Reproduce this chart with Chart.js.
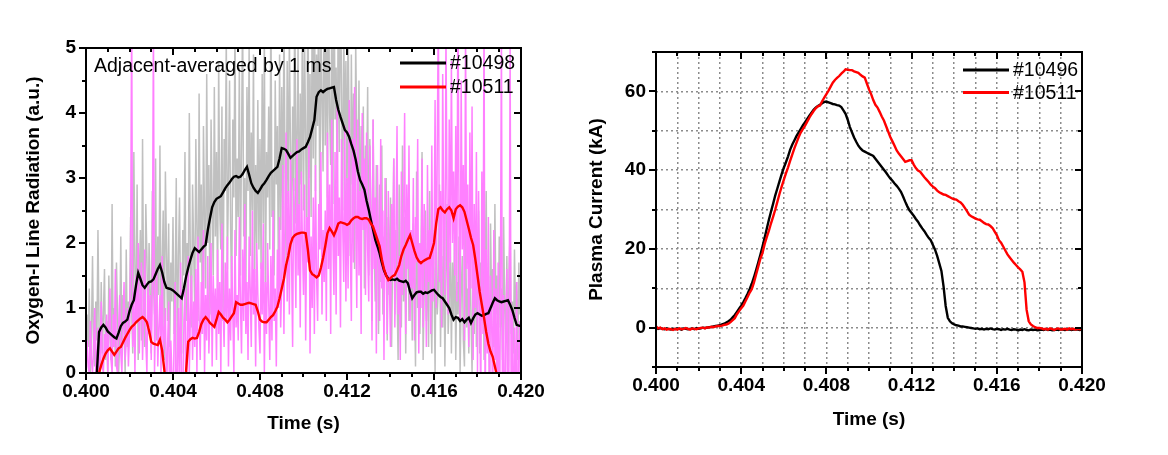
<!DOCTYPE html>
<html>
<head>
<meta charset="utf-8">
<script src="https://cdn.jsdelivr.net/npm/chart.js@4.4.0/dist/chart.umd.min.js"></script>
<style>
  html, body { margin: 0; padding: 0; background: #fff; }
  #wrap { position: relative; width: 1168px; height: 455px; }
  canvas { position: absolute; top: 0; }
  #oxygen { left: 0; }
  #current { left: 584px; }
</style>
</head>
<body>
<div id="wrap">
  <canvas id="oxygen" width="584" height="455"></canvas>
  <canvas id="current" width="584" height="455"></canvas>
</div>
<script>
// averaged / current curves: 0.400 s .. 0.420 s every 0.1 ms
const T0 = 0.400, DT = 0.0001, DT_RAW = 0.00005;
const times = Array.from({length: 201}, (_, i) => +(T0 + i * DT).toFixed(4));
// raw spectrometer samples every 0.05 ms
const rawTimes = Array.from({length: 401}, (_, i) => +(T0 + i * DT_RAW).toFixed(5));

// left panel: raw O-I signal (one row = 1 ms)
const raw10498 = [
  0.2, 0.9, 0.4, 1.3, 0.0, 0.6, 1.8, 0.3, 0.1, 1.1, 0.5, 2.2, 0.7, 0.0, 1.4, 0.3, 0.9, 1.6, 0.2, 0.8,
  0.0, 1.5, 0.6, 0.2, 2.6, 0.4, 1.0, 0.1, 1.7, 0.9, 0.0, 0.5, 2.1, 0.3, 1.2, 0.7, 0.0, 1.9, 0.4, 1.1,
  0.6, 2.4, 1.0, 0.3, 3.4, 1.6, 0.8, 2.9, 0.2, 1.5, 2.2, 0.5, 3.6, 1.1, 0.4, 2.6, 1.8, 0.6, 2.0, 1.2,
  0.3, 2.8, 1.4, 0.9, 3.3, 0.5, 2.1, 1.2, 3.5, 0.7, 1.6, 2.5, 0.2, 3.1, 1.9, 0.8, 2.3, 0.4, 1.7, 1.1,
  2.4, 0.6, 1.3, 3.0, 0.1, 1.8, 2.7, 0.9, 0.3, 2.2, 1.5, 3.4, 0.8, 2.0, 1.1, 4.0, 1.6, 0.7, 2.9, 1.9,
  1.0, 3.6, 2.2, 0.8, 4.3, 1.7, 2.9, 0.6, 3.8, 2.4, 1.3, 4.6, 2.0, 3.2, 0.9, 3.9, 2.6, 1.5, 4.4, 2.1,
  3.4, 1.2, 4.8, 2.5, 1.9, 4.1, 0.8, 3.6, 2.8, 5.2, 1.6, 3.0, 4.5, 2.2, 1.1, 3.9, 2.7, 5.4, 1.8, 3.3,
  2.4, 4.7, 1.5, 3.5, 5.6, 2.1, 3.0, 1.2, 4.4, 2.8, 5.0, 1.8, 3.7, 2.5, 4.9, 1.4, 3.2, 2.0, 4.2, 1.9,
  3.6, 1.6, 4.6, 2.3, 5.3, 1.2, 3.4, 2.7, 4.1, 1.9, 5.8, 2.4, 3.1, 1.5, 4.5, 2.9, 3.8, 1.3, 4.9, 2.2,
  4.4, 2.0, 5.6, 3.1, 1.7, 4.8, 2.6, 5.2, 3.5, 1.9, 4.1, 2.8, 6.0, 2.3, 3.7, 5.0, 1.6, 4.3, 2.9, 5.5,
  2.5, 5.1, 3.6, 1.9, 6.2, 3.0, 4.6, 2.4, 5.7, 3.3, 6.5, 2.8, 4.9, 3.8, 6.0, 2.2, 5.4, 4.2, 3.1, 6.3,
  3.5, 5.8, 2.7, 6.1, 4.0, 3.2, 5.5, 2.6, 6.4, 3.9, 4.7, 2.9, 5.9, 3.4, 6.2, 4.3, 2.5, 5.3, 3.7, 4.8,
  2.6, 5.6, 3.3, 1.8, 4.9, 2.9, 4.3, 1.6, 5.1, 3.6, 2.2, 4.5, 1.9, 3.8, 2.4, 4.1, 1.3, 3.5, 2.7, 4.4,
  1.5, 3.6, 2.5, 0.8, 3.9, 1.9, 1.1, 3.2, 2.3, 0.6, 2.9, 1.4, 3.5, 0.9, 2.1, 1.6, 3.0, 0.5, 2.4, 1.2,
  2.7, 0.4, 1.8, 3.3, 0.9, 2.2, 1.3, 0.2, 2.9, 1.6, 0.7, 3.5, 1.1, 2.4, 0.3, 1.9, 2.6, 0.8, 1.5, 2.1,
  0.5, 2.3, 1.4, 0.1, 3.1, 1.0, 2.0, 0.6, 1.7, 3.4, 0.2, 1.3, 2.5, 0.8, 1.9, 0.4, 2.8, 1.1, 0.3, 2.2,
  1.6, 0.0, 2.4, 0.9, 1.3, 2.9, 0.4, 1.8, 0.7, 2.2, 0.1, 1.5, 2.6, 0.6, 1.1, 2.0, 0.3, 1.7, 0.8, 2.3,
  0.2, 1.4, 0.9, 2.1, 0.0, 1.2, 1.8, 0.5, 0.1, 2.4, 0.7, 1.3, 0.3, 1.9, 0.9, 0.0, 1.6, 0.6, 2.2, 0.4,
  1.1, 2.5, 0.3, 1.7, 0.8, 2.0, 0.2, 1.4, 2.8, 0.6, 1.2, 0.0, 2.3, 1.0, 1.6, 0.4, 2.6, 0.9, 1.5, 0.5,
  2.1, 0.7, 1.3, 0.2, 2.4, 1.0, 0.5, 1.8, 0.1, 1.6, 2.2, 0.6, 1.1, 0.3, 1.9, 0.8, 1.4, 0.2, 1.7, 0.9,
  1.0
];
const raw10511 = [
  0.0, 0.5, 0.1, 0.0, 0.8, 0.2, 0.0, 0.4, 1.0, 0.0, 0.3, 0.7, 0.0, 0.2, 1.1, 0.1, 0.0, 0.6, 0.3, 0.9,
  0.0, 0.6, 1.3, 0.2, 0.0, 0.9, 0.4, 1.6, 0.1, 0.0, 0.7, 1.2, 0.3, 0.0, 0.8, 1.4, 0.2, 0.5, 1.0, 0.1,
  0.6, 1.8, 5.6, 0.4, 1.2, 0.0, 1.5, 0.8, 2.0, 0.3, 1.1, 1.7, 0.2, 0.9, 1.9, 0.5, 0.0, 1.4, 0.7, 1.2,
  0.2, 1.3, 5.4, 0.0, 0.9, 1.6, 0.1, 0.7, 1.2, 0.0, 1.8, 0.3, 0.6, 1.0, -0.5, 0.4, 1.1, -0.8, 0.5, 0.0,
  -1.0, 0.6, 1.4, -1.3, 0.2, 1.0, -0.7, 1.7, 0.0, -1.1, 0.8, 1.3, -0.4, 0.3, 1.8, 0.0, 0.9, 1.5, 0.2, 1.1,
  0.4, 1.6, 0.0, 2.1, 0.9, 0.2, 1.4, 0.6, 2.2, 0.0, 1.2, 0.5, 1.8, 0.3, 1.0, 2.0, 0.1, 1.5, 0.7, 1.3,
  0.2, 1.9, 0.6, 1.4, 0.0, 2.3, 1.0, 0.4, 1.7, 0.8, 2.1, 0.1, 1.3, 0.5, 1.8, 0.9, 0.0, 2.2, 0.7, 1.2,
  0.5, 2.4, 1.1, 0.3, 1.9, 0.8, 2.6, 0.6, 1.4, 0.2, 2.1, 1.3, 0.4, 2.5, 0.9, 1.6, 0.1, 2.0, 1.2, 0.7,
  0.3, 1.7, 0.9, 2.3, 0.0, 1.4, 0.6, 2.0, 1.1, 0.2, 1.8, 0.5, 2.5, 0.8, 1.3, 0.1, 1.9, 1.0, 2.4, 0.7,
  1.4, 3.2, 0.6, 2.5, 3.7, 1.1, 2.8, 0.9, 3.4, 1.8, 0.4, 3.0, 2.2, 1.0, 3.6, 1.5, 2.6, 0.7, 3.1, 2.0,
  1.2, 2.9, 0.5, 2.4, 1.7, 3.5, 0.3, 2.1, 1.0, 2.7, 0.6, 3.2, 1.5, 0.8, 2.6, 1.9, 3.4, 0.9, 2.2, 1.4,
  2.5, 0.8, 3.7, 1.6, 2.9, 0.6, 3.9, 2.1, 1.2, 3.4, 0.9, 4.1, 1.8, 2.7, 0.7, 3.6, 2.3, 1.4, 3.8, 1.1,
  3.0, 1.3, 4.2, 2.0, 0.8, 3.6, 1.7, 4.4, 2.5, 1.0, 3.9, 1.5, 2.8, 0.6, 4.0, 2.2, 3.3, 1.2, 3.7, 1.9,
  1.1, 3.5, 2.4, 0.5, 3.9, 1.6, 2.7, 0.3, 3.2, 1.9, 0.8, 3.6, 1.3, 2.5, 0.2, 3.0, 1.7, 0.6, 2.8, 1.4,
  0.4, 2.6, 1.5, 3.3, 0.7, 2.1, 3.8, 0.9, 1.8, 0.2, 3.1, 1.2, 2.4, 4.0, 0.6, 2.9, 1.6, 3.5, 0.8, 2.2,
  1.3, 3.0, 0.5, 2.4, 1.7, 3.6, 0.3, 2.0, 1.0, 3.3, 0.7, 2.6, 1.9, 0.4, 3.2, 1.4, 2.2, 0.6, 3.5, 1.1,
  1.8, 4.2, 1.0, 3.5, 5.6, 1.4, 2.8, 0.7, 4.6, 2.2, 1.2, 5.2, 2.6, 0.9, 3.9, 1.7, 4.8, 2.0, 3.1, 1.5,
  3.8, 1.1, 6.0, 2.4, 0.8, 4.5, 1.9, 3.2, 0.5, 5.3, 1.6, 2.9, 0.4, 3.7, 1.3, 4.1, 0.2, 2.6, 1.0, 3.4,
  0.0, 2.8, 1.2, -0.5, 3.1, 0.6, 5.5, -0.8, 1.9, 0.3, 2.4, -1.0, 1.5, 0.8, -0.6, 2.2, 0.2, 1.3, -1.2, 1.7,
  -1.5, 0.9, 5.3, -1.0, 1.2, -1.8, 0.5, 1.6, -1.3, 0.2, 5.0, -0.9, 1.0, -1.6, 0.7, -1.1, 1.4, -2.0, 0.4, 0.8,
  -1.0
];
// left panel: 1 ms adjacent average (one row = 1 ms)
const avg10498 = [
  null, null, null, null, null, 0.00, 0.63, 0.70, 0.74, 0.70,
  0.64, 0.61, 0.58, 0.55, 0.53, 0.62, 0.72, 0.77, 0.79, 0.82,
  0.95, 1.05, 1.12, 1.35, 1.54, 1.45, 1.35, 1.31, 1.36, 1.40,
  1.41, 1.44, 1.52, 1.60, 1.66, 1.55, 1.40, 1.31, 1.30, 1.29,
  1.27, 1.24, 1.21, 1.18, 1.15, 1.30, 1.48, 1.62, 1.74, 1.85,
  1.92, 1.89, 1.86, 1.90, 1.94, 1.97, 2.20, 2.38, 2.55, 2.63,
  2.68, 2.70, 2.72, 2.78, 2.84, 2.89, 2.93, 2.98, 3.02, 3.03,
  3.01, 3.02, 3.06, 3.12, 3.17, 3.05, 2.92, 2.85, 2.80, 2.77,
  2.82, 2.88, 2.92, 2.97, 3.03, 3.08, 3.11, 3.14, 3.17, 3.30,
  3.46, 3.45, 3.43, 3.37, 3.31, 3.34, 3.37, 3.40, 3.41, 3.44,
  3.46, 3.48, 3.55, 3.63, 3.76, 3.89, 4.25, 4.32, 4.35, 4.32,
  4.35, 4.37, 4.38, 4.39, 4.40, 4.20, 4.05, 3.94, 3.84, 3.74,
  3.70, 3.63, 3.52, 3.42, 3.28, 3.10, 2.97, 2.90, 2.82, 2.65,
  2.51, 2.35, 2.20, 2.05, 1.95, 1.84, 1.70, 1.58, 1.50, 1.45,
  1.43, 1.44, 1.43, 1.45, 1.42, 1.41, 1.40, 1.42, 1.38, 1.25,
  1.15, 1.20, 1.24, 1.25, 1.25, 1.22, 1.24, 1.23, 1.25, 1.27,
  1.28, 1.24, 1.20, 1.17, 1.15, 1.10, 1.05, 1.00, 0.90, 0.82,
  0.86, 0.85, 0.80, 0.83, 0.78, 0.82, 0.85, 0.77, 0.84, 0.90,
  0.92, 0.90, 0.88, 0.89, 0.91, 0.92, 1.00, 1.08, 1.15, 1.12,
  1.10, 1.09, 1.10, 1.11, 1.12, 1.05, 0.97, 0.85, 0.74, 0.73, 0.72
];
const avg10511 = [
  null, null, null, null, null, null, 0.00, 0.12, 0.22, 0.30,
  0.35, 0.38, 0.33, 0.28, 0.33, 0.38, 0.40, 0.47, 0.54, 0.60,
  0.66, 0.71, 0.74, 0.78, 0.81, 0.84, 0.86, 0.83, 0.78, 0.65,
  0.48, 0.45, 0.44, 0.43, 0.51, 0.35, 0.05, -0.30, -0.50, -0.60,
  -0.60, -0.50, -0.50, -0.40, -0.30, -0.10, 0.02, 0.48, 0.52, 0.54,
  0.53, 0.54, 0.63, 0.75, 0.82, 0.86, 0.82, 0.77, 0.74, 0.71,
  0.82, 0.94, 0.90, 0.85, 0.82, 0.78, 0.82, 0.87, 0.92, 1.09,
  1.07, 1.05, 1.05, 1.06, 1.07, 1.08, 1.07, 1.06, 1.05, 0.95,
  0.82, 0.79, 0.78, 0.78, 0.82, 0.86, 0.89, 0.95, 1.02, 1.15,
  1.30, 1.45, 1.66, 1.80, 1.98, 2.08, 2.12, 2.14, 2.15, 2.16,
  2.16, 2.15, 1.90, 1.58, 1.52, 1.50, 1.47, 1.50, 1.62, 1.77,
  1.95, 2.15, 2.23, 2.18, 2.12, 2.20, 2.30, 2.32, 2.31, 2.30,
  2.28, 2.30, 2.35, 2.38, 2.40, 2.40, 2.38, 2.37, 2.38, 2.38,
  2.36, 2.30, 2.25, 2.15, 2.05, 1.95, 1.75, 1.60, 1.50, 1.43,
  1.46, 1.49, 1.51, 1.58, 1.66, 1.80, 1.90, 1.97, 2.05, 2.12,
  2.00, 1.88, 1.78, 1.72, 1.69, 1.72, 1.74, 1.76, 1.77, 1.88,
  2.00, 2.30, 2.52, 2.55, 2.50, 2.47, 2.52, 2.55, 2.50, 2.38,
  2.52, 2.56, 2.58, 2.55, 2.48, 2.35, 2.22, 2.08, 1.97, 1.75,
  1.50, 1.25, 1.05, 0.85, 0.63, 0.45, 0.33, 0.25, 0.10, -0.05,
  -0.30, -0.50, -0.70, -0.80, -0.90, -1.00, -1.00, -1.10, -1.10, -1.20, -1.20
];

// right panel: plasma current (kA)
const ip10496 = [
  0.1, -0.3, -0.1, -0.3, -0.4, -0.2, -0.4, -0.5, -0.3, -0.4,
  -0.2, -0.3, -0.5, -0.2, -0.3, -0.4, -0.3, -0.2, -0.4, -0.1,
  -0.3, -0.2, 0.0, -0.1, 0.0, 0.1, 0.2, 0.3, 0.4, 0.5,
  0.6, 0.8, 1.0, 1.3, 1.6, 2.0, 2.6, 3.2, 4.0, 4.8,
  5.6, 6.5, 7.5, 8.6, 9.8, 11.2, 12.8, 14.6, 16.5, 18.5,
  20.6, 22.8, 25.1, 27.4, 29.5, 31.5, 33.6, 35.4, 37.2, 39.0,
  40.6, 42.0, 43.5, 45.2, 46.5, 47.6, 48.7, 49.6, 50.5, 51.4,
  52.2, 53.0, 53.8, 54.6, 55.3, 55.9, 56.3, 56.6, 57.0, 57.3,
  57.4, 57.2, 57.0, 56.8, 56.7, 56.5, 56.4, 56.0, 55.2, 54.3,
  52.8, 51.0, 49.6, 48.3, 47.2, 46.2, 45.5, 45.0, 44.7, 44.4,
  44.1, 43.9, 43.6, 42.9, 42.2, 41.5, 40.8, 40.1, 39.4, 38.6,
  37.9, 37.3, 36.6, 36.0, 35.3, 34.5, 33.3, 32.0, 30.8, 29.8,
  29.1, 28.4, 27.6, 26.9, 26.0, 25.2, 24.5, 23.6, 22.8, 22.2,
  21.0, 19.8, 18.2, 16.3, 14.4, 10.5, 5.5, 2.5, 1.6, 1.1,
  0.8, 0.6, 0.5, 0.3, 0.3, 0.2, 0.1, 0.0, -0.1, -0.2,
  -0.3, -0.2, -0.4, -0.3, -0.5, -0.3, -0.4, -0.2, -0.4, -0.5,
  -0.3, -0.4, -0.6, -0.4, -0.5, -0.3, -0.5, -0.6, -0.4, -0.5,
  -0.7, -0.5, -0.6, -0.4, -0.6, -0.7, -0.5, -0.6, -0.5, -0.7,
  -0.6, -0.5, -0.6, -0.4, -0.6, -0.5, -0.7, -0.6, -0.5, -0.6,
  -0.4, -0.5, -0.6, -0.5, -0.4, -0.6, -0.5, -0.4, -0.5, -0.6, -0.5
];
const ip10511 = [
  0.3, -0.2, 0.0, -0.4, -0.2, -0.5, -0.3, -0.4, -0.6, -0.3,
  -0.5, -0.2, -0.4, -0.3, -0.1, -0.3, -0.5, -0.2, -0.3, -0.4,
  -0.2, -0.1, 0.0, -0.2, 0.1, 0.0, 0.2, 0.1, 0.3, 0.4,
  0.4, 0.5, 0.7, 0.8, 1.0, 1.4, 1.9, 2.4, 3.4, 4.2,
  4.9, 5.6, 6.7, 7.8, 8.9, 9.8, 11.5, 13.5, 15.5, 17.5,
  19.0, 21.2, 23.0, 24.6, 26.5, 28.2, 30.0, 32.0, 34.0, 35.8,
  37.5, 39.2, 40.7, 42.4, 44.0, 45.6, 47.0, 48.4, 49.6, 50.5,
  51.3, 52.3, 53.3, 54.2, 55.0, 55.7, 56.2, 56.4, 57.5, 58.4,
  59.3, 60.2, 61.2, 62.2, 62.9, 63.4, 63.9, 64.5, 65.0, 65.6,
  65.5, 65.4, 65.4, 65.1, 64.9, 64.7, 64.2, 63.8, 63.5, 62.0,
  60.5, 59.3, 57.8, 56.6, 55.9, 54.8, 53.6, 52.6, 51.2, 49.8,
  48.4, 47.3, 46.2, 45.0, 44.2, 43.5, 42.8, 42.1, 42.3, 42.5,
  42.5, 41.4, 40.5, 39.9, 39.6, 38.9, 38.2, 37.6, 37.0, 36.3,
  35.8, 35.4, 34.8, 34.4, 34.1, 33.8, 33.7, 33.4, 33.1, 32.8,
  32.6, 32.5, 32.1, 31.8, 31.2, 30.4, 29.6, 28.7, 28.3, 28.0,
  27.7, 27.5, 27.4, 27.0, 26.6, 26.3, 26.2, 25.8, 25.3, 24.4,
  23.5, 22.2, 21.6, 20.6, 19.6, 18.6, 17.9, 17.2, 16.5, 15.9,
  15.3, 14.8, 14.2, 11.5, 4.5, 1.6, 0.8, 0.4, 0.1, -0.1,
  -0.1, -0.2, -0.4, -0.3, -0.5, -0.2, -0.4, -0.6, -0.3, -0.2,
  -0.5, -0.4, -0.3, -0.5, -0.2, -0.4, -0.3, -0.5, -0.3, -0.4, -0.2
];

const xTickLabels = ['0.400', '0.404', '0.408', '0.412', '0.416', '0.420'];
const oxyTickLabels = ['0', '1', '2', '3', '4', '5'];
const ipTickLabels = ['0', '20', '40', '60'];

const FONT = "'Liberation Sans', Arial, sans-serif";
Chart.defaults.font.family = FONT;
Chart.defaults.color = '#000';

const pts = (ts, vals) => ts.map((t, i) => ({x: t, y: vals[i]}));

// frame box plus Origin-style ticks (outward on left/bottom, inward on top/right)
const frameTicks = {
  id: 'frameTicks',
  afterDraw(chart, args, o) {
    const {ctx, chartArea: a} = chart;
    const xs = chart.scales.x, ys = chart.scales.y;
    const isMajor = (v, step) => Math.abs(v / step - Math.round(v / step)) < 1e-6;
    ctx.save();
    ctx.strokeStyle = '#000';
    ctx.lineWidth = 2;
    ctx.beginPath();
    xs.ticks.forEach(t => {
      const p = Math.round(xs.getPixelForValue(t.value));
      const len = isMajor(t.value, o.xMajor) ? 7 : 4;
      ctx.moveTo(p, a.bottom); ctx.lineTo(p, a.bottom + len);
      ctx.moveTo(p, a.top); ctx.lineTo(p, a.top + len);
    });
    ys.ticks.forEach(t => {
      const p = Math.round(ys.getPixelForValue(t.value));
      const len = isMajor(t.value, o.yMajor) ? 7 : 4;
      ctx.moveTo(a.left - len, p); ctx.lineTo(a.left, p);
      ctx.moveTo(a.right - len, p); ctx.lineTo(a.right, p);
    });
    ctx.stroke();
    ctx.strokeRect(a.left, a.top, a.right - a.left, a.bottom - a.top);
    ctx.restore();
  }
};

// key inside the plot plus optional note
const keyAndNote = {
  id: 'keyAndNote',
  afterDatasetsDraw(chart, args, o) {
    const {ctx, chartArea: a} = chart;
    ctx.save();
    ctx.font = '19.5px ' + FONT;
    ctx.fillStyle = '#000';
    ctx.textBaseline = 'middle';
    chart.data.datasets.filter(d => d.inKey).forEach((d, i) => {
      const yy = a.top + o.keyTop + i * o.keyStep;
      const x0 = a.right - o.keyRight;
      ctx.strokeStyle = d.borderColor;
      ctx.lineWidth = 3;
      ctx.beginPath();
      ctx.moveTo(x0, yy); ctx.lineTo(x0 + 46, yy);
      ctx.stroke();
      ctx.fillText(d.label, x0 + 50, yy + 1);
    });
    if (o.note) {
      ctx.textBaseline = 'alphabetic';
      ctx.fillText(o.note, a.left + 8, a.top + 24);
    }
    ctx.restore();
  }
};

function timeAxis(height, titlePad, gridOn) {
  return {
    type: 'linear', min: 0.4, max: 0.42,
    afterFit: s => { s.height = height; },
    grid: {display: gridOn, drawTicks: false, color: '#8c8c8c', lineWidth: 1.5, borderDash: [2, 3]},
    border: {display: false, dash: [2, 3]},
    ticks: {
      stepSize: 0.001, autoSkip: false, maxRotation: 0, minRotation: 0, padding: 7,
      font: {size: 19, weight: 'bold'},
      callback: v => xTickLabels.includes(v.toFixed(3)) ? v.toFixed(3) : ''
    },
    title: {display: true, text: 'Time (s)', font: {size: 19, weight: 'bold'}, padding: {top: 0, bottom: titlePad}}
  };
}

new Chart(document.getElementById('oxygen'), {
  type: 'line',
  data: {
    datasets: [
      {label: '#10498', data: pts(times, avg10498), borderColor: '#000000', borderWidth: 2.4, order: 1, inKey: true},
      {label: '#10511', data: pts(times, avg10511), borderColor: '#ff0000', borderWidth: 2.4, order: 0, inKey: true},
      {label: '#10498 raw', data: pts(rawTimes, raw10498), borderColor: '#c0c0c0', borderWidth: 1.5, order: 3},
      {label: '#10511 raw', data: pts(rawTimes, raw10511), borderColor: '#ff80ff', borderWidth: 1.5, order: 2}
    ]
  },
  options: {
    responsive: false, animation: false, devicePixelRatio: 1,
    layout: {padding: {top: 48, right: 63, left: 0, bottom: 0}},
    elements: {point: {radius: 0}, line: {tension: 0}},
    datasets: {line: {clip: 0, spanGaps: false}},
    plugins: {
      legend: {display: false}, tooltip: {enabled: false},
      frameTicks: {xMajor: 0.004, yMajor: 1},
      keyAndNote: {keyTop: 15, keyStep: 24, keyRight: 121, note: 'Adjacent-averaged by 1 ms'}
    },
    scales: {
      x: timeAxis(82, 20, false),
      y: {
        min: 0, max: 5,
        afterFit: s => { s.width = 86; },
        grid: {display: false, drawTicks: false},
        border: {display: false},
        ticks: {
          stepSize: 0.5, padding: 10, font: {size: 19, weight: 'bold'},
          callback: v => oxyTickLabels.includes(String(v)) ? String(v) : ''
        },
        title: {display: true, text: 'Oxygen-I Line Radiation (a.u.)', font: {size: 19, weight: 'bold'}, padding: {top: 22, bottom: 0}}
      }
    }
  },
  plugins: [frameTicks, keyAndNote]
});

new Chart(document.getElementById('current'), {
  type: 'line',
  data: {
    datasets: [
      {label: '#10496', data: pts(times, ip10496), borderColor: '#000000', borderWidth: 2.4, order: 1, inKey: true},
      {label: '#10511', data: pts(times, ip10511), borderColor: '#ff0000', borderWidth: 2.4, order: 0, inKey: true}
    ]
  },
  options: {
    responsive: false, animation: false, devicePixelRatio: 1,
    layout: {padding: {top: 52, right: 86, left: 0, bottom: 0}},
    elements: {point: {radius: 0}, line: {tension: 0}},
    datasets: {line: {clip: 0}},
    plugins: {
      legend: {display: false}, tooltip: {enabled: false},
      frameTicks: {xMajor: 0.004, yMajor: 20},
      keyAndNote: {keyTop: 18, keyStep: 22.5, keyRight: 119}
    },
    scales: {
      x: timeAxis(88, 24, true),
      y: {
        min: -10, max: 70,
        afterFit: s => { s.width = 72; },
        grid: {display: true, drawTicks: false, color: '#8c8c8c', lineWidth: 1.5, borderDash: [2, 3]},
        border: {display: false, dash: [2, 3]},
        ticks: {
          stepSize: 10, padding: 10, font: {size: 19, weight: 'bold'},
          callback: v => ipTickLabels.includes(String(v)) ? String(v) : ''
        },
        title: {display: true, text: 'Plasma Current (kA)', font: {size: 19, weight: 'bold'}, padding: {top: 1, bottom: 0}}
      }
    }
  },
  plugins: [frameTicks, keyAndNote]
});
</script>
</body>
</html>
